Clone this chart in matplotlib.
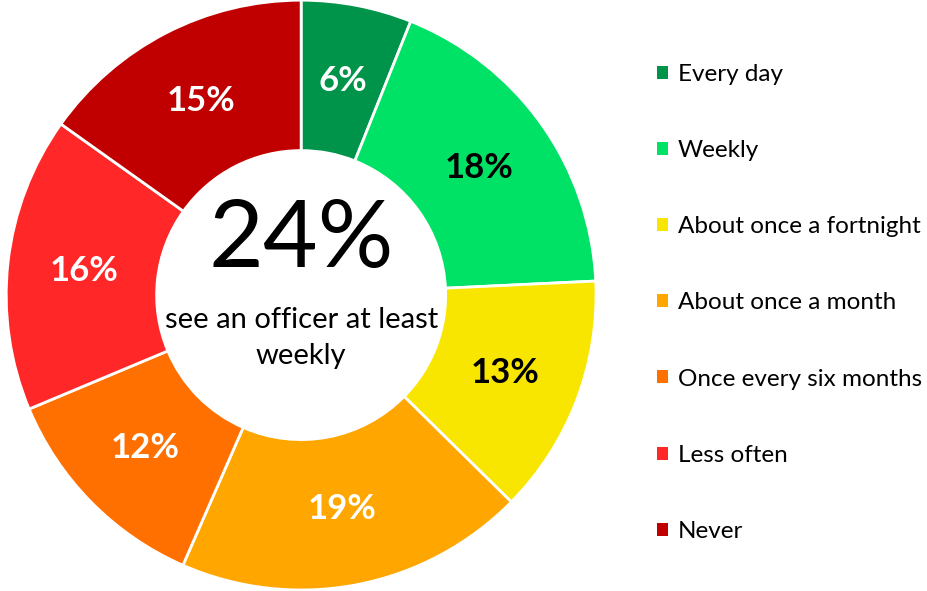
import matplotlib as mpl
import matplotlib.pyplot as plt
from matplotlib.patches import Patch

plt.rcParams['font.family'] = ['Lato', 'DejaVu Sans']

labels = ['Every day', 'Weekly', 'About once a fortnight', 'About once a month',
          'Once every six months', 'Less often', 'Never']
values = [6, 18, 13, 19, 12, 16, 15]
colors = ['#00944A', '#00E266', '#F9E600', '#FFA600', '#FF7000', '#FF2727', '#C00000']
text_colors = ['white', 'black', 'black', 'white', 'white', 'white', 'white']
headline = '24%'
subtitle = 'see an officer at least\nweekly'

fig = plt.figure(figsize=(9.28, 5.91), dpi=100)
ax = fig.add_axes([0.0065, 0.0017, 0.636, 0.998])

wedges, texts = ax.pie(values, colors=colors, startangle=90, counterclock=False,
                       labels=[f'{v}%' for v in values], labeldistance=0.74,
                       wedgeprops=dict(width=0.51, edgecolor='white', linewidth=2))
for t, c in zip(texts, text_colors):
    t.set_color(c)
    t.set_fontsize(25)
    t.set_fontweight('bold')
    t.set_ha('center')
    t.set_va('center')

ax.text(0, 0.183, headline, ha='center', va='center', fontsize=68)
ax.text(0, -0.145, subtitle, ha='center', va='center', fontsize=21, linespacing=1.5)
ax.set_xlim(-1, 1)
ax.set_ylim(-1, 1)
ax.set_aspect('equal')
ax.axis('off')

handles = [Patch(facecolor=c, edgecolor='none') for c in colors]
fig.legend(handles, labels, loc='upper left', bbox_to_anchor=(0.708, 0.892),
           frameon=False, fontsize=17.5, handlelength=0.45, handleheight=0.45,
           handletextpad=0.4, labelspacing=2.27, borderaxespad=0, borderpad=0)

plt.savefig('out.png')
